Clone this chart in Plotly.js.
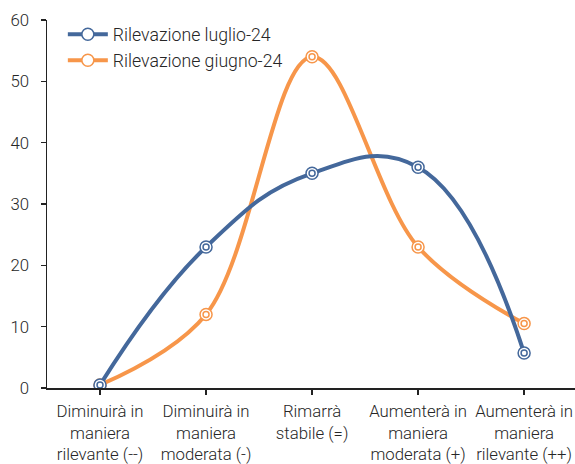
<!DOCTYPE html>
<html><head><meta charset="utf-8">
<script src="https://cdn.plot.ly/plotly-3.0.1.min.js"></script>
<style>html,body{margin:0;padding:0;background:#fff}#c{width:575px;height:464px}</style>
</head><body><div id="c"></div>
<script>
const categories = ["Diminuirà in<br>maniera<br>rilevante (--)","Diminuirà in<br>maniera<br>moderata (-)","Rimarrà<br>stabile (=)","Aumenterà in<br>maniera<br>moderata (+)","Aumenterà in<br>maniera<br>rilevante (++)"];
const luglio = [0.5, 23, 35, 36, 5.7];
const giugno = [0.5, 12, 54, 23, 10.5];
const nameL = "Rilevazione luglio-24";
const nameG = "Rilevazione giugno-24";
const blue = "#44689B", orange = "#F7964A";
const xs = categories.map((c,i)=>i);
function series(y, name, color, sm){
  return [
    {x: xs, y: y, name: name, type:"scatter", mode:"lines+markers",
     line:{color:color, width:4, shape:"spline", smoothing:sm},
     marker:{symbol:"circle", size:12, color:"#fff", line:{color:color, width:1.5}}},
    {x: xs, y: y, showlegend:false, hoverinfo:"skip", type:"scatter", mode:"markers",
     marker:{symbol:"circle-open", size:6, color:color, line:{color:color, width:1.5}}}
  ];
}
const data = [...series(giugno, nameG, orange, 1), ...series(luglio, nameL, blue, 1.25)];
data[0].legendrank = 2; data[2].legendrank = 1;
const font = {family:"Roboto, sans-serif", size:16.8, color:"#262626", weight:300};
const lfont = {family:"Roboto, sans-serif", size:17.7, color:"#262626", weight:300};
Plotly.newPlot("c", data, {
  width:575, height:464,
  margin:{l:47, r:0, t:20, b:76},
  paper_bgcolor:"#fff", plot_bgcolor:"#fff",
  font: font,
  showlegend:true,
  legend:{x:0.03, y:1.01, xanchor:"left", yanchor:"top", bgcolor:"rgba(0,0,0,0)", font:lfont, tracegroupgap:0, itemwidth:40, traceorder:"normal"},
  xaxis:{range:[-0.5, 4.48], tickmode:"array", tickvals:xs, ticktext:categories, ticklabelstandoff:2,
    showgrid:false, zeroline:false, showline:true, linecolor:"#222", linewidth:1.5,
    ticks:"outside", ticklen:5, tickcolor:"#222", tickwidth:1.5, fixedrange:true},
  yaxis:{range:[0,60], dtick:10, showgrid:false, zeroline:false, showline:true, ticklabelstandoff:8,
    linecolor:"#222", linewidth:1.5, ticks:"outside", ticklen:5, tickcolor:"#222", tickwidth:1.5, fixedrange:true}
}, {displayModeBar:false, staticPlot:true});
</script></body></html>
